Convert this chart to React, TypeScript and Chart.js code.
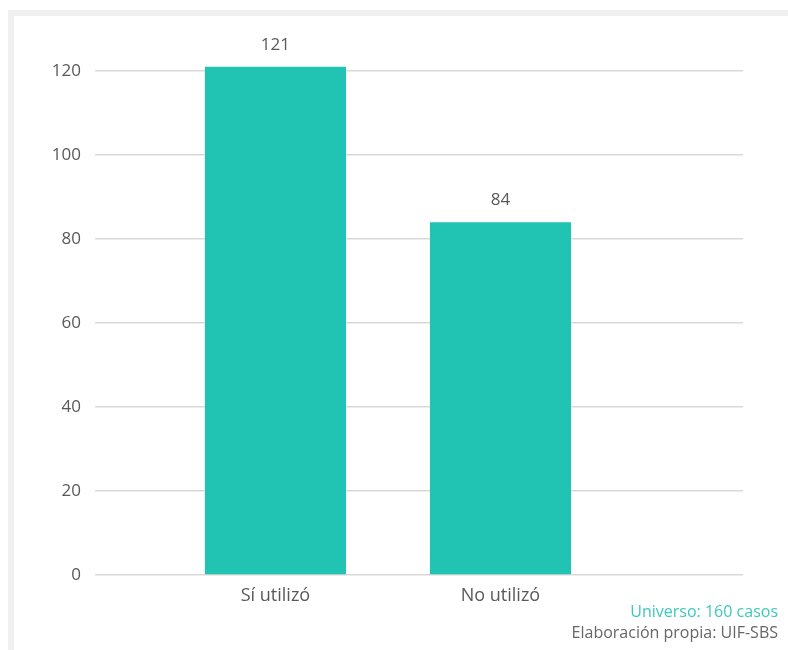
import React, { useEffect, useRef } from "react";
import { Chart, registerables } from "chart.js";

Chart.register(...registerables);

const categories = ["Sí utilizó", "No utilizó"];
const values = [121, 84];
const yTicks = [0, 20, 40, 60, 80, 100, 120];
const footerUniverse = "Universo: 160 casos";
const footerSource = "Elaboración propia: UIF-SBS";

const BAR_COLOR = "#21C3B3";
const TEXT_COLOR = "#595959";
const FONT = "'Open Sans', 'Noto Sans', sans-serif";

const valueLabelPlugin = {
  id: "valueLabels",
  afterDatasetsDraw(chart: any) {
    const ctx = chart.ctx;
    const meta = chart.getDatasetMeta(0);
    ctx.save();
    ctx.font = `17px ${FONT}`;
    ctx.fillStyle = TEXT_COLOR;
    ctx.textAlign = "center";
    ctx.textBaseline = "middle";
    meta.data.forEach((bar: any, i: number) => {
      ctx.fillText(String(values[i]), bar.x, bar.y - 22);
    });
    ctx.restore();
  },
};

export default function App() {
  const ref = useRef<HTMLCanvasElement | null>(null);

  useEffect(() => {
    if (!ref.current) return;
    const chart = new Chart(ref.current, {
      type: "bar",
      data: {
        datasets: [
          {
            data: values.map((v, i) => ({ x: i + 1, y: v })),
            backgroundColor: BAR_COLOR,
            borderWidth: 0,
            categoryPercentage: 1,
            barPercentage: 0.627,
          },
        ],
      },
      options: {
        animation: false,
        responsive: false,
        maintainAspectRatio: false,
        layout: { padding: { top: 29, right: 45, left: 0, bottom: 0 } },
        plugins: {
          legend: { display: false },
          tooltip: { enabled: false },
        },
        scales: {
          x: {
            type: "linear",
            offset: false,
            min: 0.198,
            max: 3.078,
            grid: { display: false, offset: false },
            border: { display: false },
            afterBuildTicks: (scale: any) => {
              scale.ticks = categories.map((_, i) => ({ value: i + 1 }));
            },
            afterFit: (scale: any) => {
              scale.height = 75;
            },
            ticks: {
              padding: 2,
              color: TEXT_COLOR,
              font: { family: FONT, size: 18 },
              maxRotation: 0,
              autoSkip: false,
              callback: (v: any) => categories[Number(v) - 1] ?? "",
            },
          },
          y: {
            min: 0,
            max: 130,
            grid: { color: "#d9d9d9", lineWidth: 1.5, drawTicks: false },
            border: { display: false },
            afterBuildTicks: (scale: any) => {
              scale.ticks = yTicks.map((v) => ({ value: v }));
            },
            afterFit: (scale: any) => {
              scale.width = 95;
            },
            ticks: {
              padding: 14,
              color: TEXT_COLOR,
              font: { family: FONT, size: 17 },
            },
          },
        },
      },
      plugins: [valueLabelPlugin],
    } as any);
    return () => chart.destroy();
  }, []);

  return (
    <div style={{ position: "fixed", left: 0, top: 0, width: 788, height: 650, background: "#fff", overflow: "hidden" }}>
      <div
        style={{
          position: "absolute",
          left: 8,
          top: 10,
          width: 800,
          height: 700,
          borderTop: "6px solid #f0f0f0",
          borderLeft: "6px solid #f0f0f0",
        }}
      />
      <canvas ref={ref} width={788} height={650} style={{ position: "absolute", left: 0, top: 0 }} />
      <div
        style={{
          position: "absolute",
          right: 10,
          top: 601,
          textAlign: "right",
          fontFamily: FONT,
          fontSize: 16,
          lineHeight: "21px",
        }}
      >
        <div style={{ color: "#3CC9BC" }}>{footerUniverse}</div>
        <div style={{ color: "#666666" }}>{footerSource}</div>
      </div>
    </div>
  );
}
